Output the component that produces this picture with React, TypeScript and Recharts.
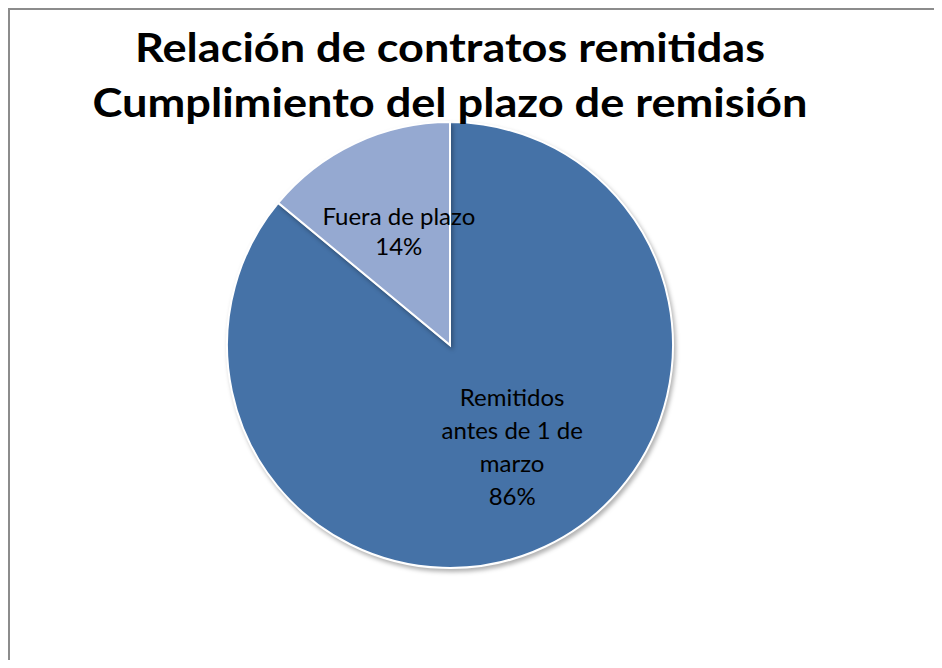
import React from 'react';
import { PieChart, Pie, Cell } from 'recharts';

const categories = ['Remitidos antes de 1 de marzo', 'Fuera de plazo'];
const shares = [86, 14];
const labelLines = [['Remitidos', 'antes de 1 de', 'marzo'], ['Fuera de plazo']];
const titleLines = ['Relación de contratos remitidas', 'Cumplimiento del plazo de remisión'];

const COLORS = ['#4572A7', '#95A9D1'];
const LABEL_NUDGE = [{ dx: 9, dy: -12 }, { dx: 2, dy: -2 }];

const data = categories.map((name, i) => ({ name, value: shares[i] }));

const renderLabel = (props: any) => {
  const { cx, cy, midAngle, outerRadius, percent, index } = props;
  const RAD = Math.PI / 180;
  const r = outerRadius * 0.56;
  const x = cx + r * Math.cos(-midAngle * RAD) + LABEL_NUDGE[index].dx;
  const y = cy + r * Math.sin(-midAngle * RAD) + LABEL_NUDGE[index].dy;
  const lines = [...labelLines[index], `${Math.round(percent * 100)}%`];
  const lh = index === 0 ? 33 : 30;
  const top = y - ((lines.length - 1) * lh) / 2;
  return (
    <text
      x={x}
      y={top}
      textAnchor="middle"
      dominantBaseline="central"
      fill="#000"
      fontFamily="Lato, sans-serif"
      fontSize={24}
    >
      {lines.map((l, i) => (
        <tspan key={i} x={x} y={top + i * lh}>
          {l}
        </tspan>
      ))}
    </text>
  );
};

const App: React.FC = () => {
  return (
    <div
      style={{
        position: 'relative',
        width: 932,
        height: 650,
        borderLeft: '2px solid #8c8c8c',
        borderTop: '2px solid #8c8c8c',
        background: '#fff',
        overflow: 'hidden',
      }}
    >
      <style>{`.recharts-pie-sector { filter: drop-shadow(2px 3px 2px rgba(0,0,0,0.3)); }`}</style>
      <PieChart width={932} height={650}>
        <Pie
          data={data}
          dataKey="value"
          nameKey="name"
          cx={435}
          cy={330}
          outerRadius={223}
          startAngle={90}
          endAngle={-270}
          stroke="#fff"
          strokeWidth={2}
          label={renderLabel}
          labelLine={false}
          isAnimationActive={false}
        >
          {data.map((entry, index) => (
            <Cell key={`cell-${index}`} fill={COLORS[index % COLORS.length]} />
          ))}
        </Pie>
      </PieChart>
      <svg
        width={932}
        height={130}
        style={{ position: 'absolute', left: 0, top: 0, pointerEvents: 'none' }}
      >
        <text
          x={440}
          y={52}
          textAnchor="middle"
          fontFamily="Lato, sans-serif"
          fontWeight="bold"
          fontSize={40}
          textLength={630}
          lengthAdjust="spacingAndGlyphs"
        >
          {titleLines[0]}
        </text>
        <text
          x={440}
          y={107}
          textAnchor="middle"
          fontFamily="Lato, sans-serif"
          fontWeight="bold"
          fontSize={40}
          textLength={715}
          lengthAdjust="spacingAndGlyphs"
        >
          {titleLines[1]}
        </text>
      </svg>
    </div>
  );
};

export default App;
